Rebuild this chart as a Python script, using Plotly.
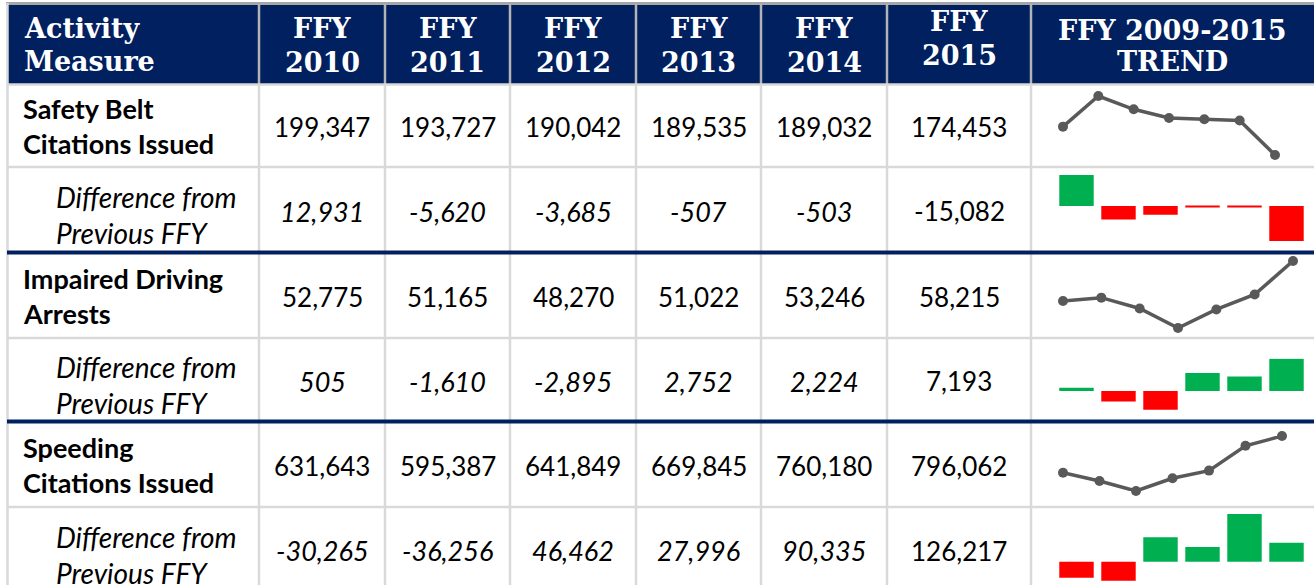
import plotly.graph_objects as go

W, H = 1314, 585

# ---------------- data ----------------
header_years = ["2010", "2011", "2012", "2013", "2014", "2015"]
measure_line1 = ["Safety Belt", "Impaired Driving", "Speeding"]
measure_line2 = ["Citations Issued", "Arrests", "Citations Issued"]
diff_line1 = "Difference from"
diff_line2 = "Previous FFY"

belt_values = [199347, 193727, 190042, 189535, 189032, 174453]
belt_diff = [12931, -5620, -3685, -507, -503, -15082]
impaired_values = [52775, 51165, 48270, 51022, 53246, 58215]
impaired_diff = [505, -1610, -2895, 2752, 2224, 7193]
speeding_values = [631643, 595387, 641849, 669845, 760180, 796062]
speeding_diff = [-30265, -36256, 46462, 27996, 90335, 126217]

# trend sparklines (FFY 2009-2015)
trend_years = ["2009", "2010", "2011", "2012", "2013", "2014", "2015"]
belt_trend = [186416, 199347, 193727, 190042, 189535, 189032, 174453]
impaired_trend = [52270, 52775, 51165, 48270, 51022, 53246, 58215]
speeding_trend = [661908, 631643, 595387, 641849, 669845, 760180, 796062]

bar_years = ["2010", "2011", "2012", "2013", "2014", "2015"]
belt_trend_bars = [12931, -5620, -3685, -507, -503, -14579]
impaired_trend_bars = [505, -1610, -2895, 2752, 2224, 4969]
speeding_trend_bars = [-30265, -36256, 46462, 27996, 90335, 35882]

# ---------------- styles / layout ----------------
NAVY = "#002060"
GRID = "#D9D9D9"
HDR_SEP = "#B4B4B4"
TXT = "#000000"
LINE_C = "#595959"
GREEN = "#00B050"
RED = "#FF0000"
BODY_FONT = "Lato"
HEAD_FONT = "DejaVu Serif"

col_edges = [8, 259, 385, 510, 636, 761, 887, 1031, 1314]
row_edges = [4, 84, 167, 253, 338, 422, 507, 592]

fig = go.Figure()

shapes = []
annotations = []

def line(x0, y0, x1, y1, color, width):
    shapes.append(dict(type="line", xref="x", yref="y", x0=x0, y0=y0, x1=x1, y1=y1,
                       line=dict(color=color, width=width), layer="above"))

def text(x, y, s, size=26, color=TXT, family=BODY_FONT, anchor="center"):
    annotations.append(dict(xref="x", yref="y", x=x, y=y, text=s, showarrow=False,
                            xanchor=anchor, yanchor="middle",
                            font=dict(size=size, color=color, family=family)))

# header background
shapes.append(dict(type="rect", xref="x", yref="y", x0=8, x1=W + 5, y0=4, y1=84,
                   fillcolor=NAVY, line=dict(width=0), layer="below"))
# top border
line(6, 3.5, W + 5, 3.5, "#A6A6A6", 3)
# header separators
for x in col_edges[1:-1]:
    line(x, 4, x, 84, HDR_SEP, 2.5)
# body vertical lines
for x in col_edges[1:-1]:
    line(x, 84, x, H + 5, GRID, 2.5)
# left border
line(7.5, 3, 7.5, H + 5, GRID, 2.5)
# horizontal lines
line(7, 84.5, W + 5, 84.5, GRID, 2.5)
for y in [167, 338, 507]:
    line(7, y, W + 5, y, GRID, 2.5)
for y in [252.5, 421.5]:
    line(7, y, W + 5, y, NAVY, 4)

# header texts
hfs = 27
text(22, 28, "<b>Activity</b>", hfs, "white", HEAD_FONT, "left")
text(22, 61, "<b>Measure</b>", hfs, "white", HEAD_FONT, "left")
for i, yr in enumerate(header_years):
    cx = (col_edges[i + 1] + col_edges[i + 2]) / 2
    dy = -7 if i == 5 else 0
    text(cx, 28 + dy, "<b>FFY</b>", hfs, "white", HEAD_FONT)
    text(cx, 62 + dy, "<b>%s</b>" % yr, hfs, "white", HEAD_FONT)
cx_tr = (col_edges[7] + col_edges[8]) / 2
text(cx_tr, 30, "<b>FFY 2009-2015</b>", hfs, "white", HEAD_FONT)
text(cx_tr, 61, "<b>TREND</b>", hfs, "white", HEAD_FONT)

# body
groups = [(belt_values, belt_diff), (impaired_values, impaired_diff), (speeding_values, speeding_diff)]
for g, (vals, diffs) in enumerate(groups):
    r_main = 1 + 2 * g
    r_diff = 2 + 2 * g
    yc_m = (row_edges[r_main] + row_edges[r_main + 1]) / 2
    yc_d = (row_edges[r_diff] + row_edges[r_diff + 1]) / 2
    text(21, yc_m - 17, "<b>%s</b>" % measure_line1[g], 27, TXT, BODY_FONT, "left")
    text(21, yc_m + 18, "<b>%s</b>" % measure_line2[g], 27, TXT, BODY_FONT, "left")
    text(54, yc_d - 13, "<i>%s</i>" % diff_line1, 28, TXT, BODY_FONT, "left")
    text(54, yc_d + 23, "<i>%s</i>" % diff_line2, 28, TXT, BODY_FONT, "left")
    for i in range(6):
        cx = (col_edges[i + 1] + col_edges[i + 2]) / 2
        text(cx, yc_m + 1, f"{vals[i]:,}", 26)
        s = f"{diffs[i]:,}"
        if i == 5:
            text(cx, yc_d + 1, s, 26)
        else:
            text(cx, yc_d + 1, "<i>%s</i>" % s, 27)

# main layout axis (pixel space)
layout_axes = dict(
    xaxis=dict(range=[0, W], domain=[0, 1], visible=False, fixedrange=True),
    yaxis=dict(range=[H, 0], domain=[0, 1], visible=False, fixedrange=True),
)

def xdom(a, b):
    return [a / W, b / W]

def ydom(top, bottom):
    return [(H - bottom) / H, (H - top) / H]

# sparkline specs: (kind, data, x px domain, y px domain (top,bottom), yrange)
sparks = [
    ("line", belt_trend, (1063, 1275), (96, 155), None),
    ("bar", belt_trend_bars, (1055.5, 1307.5), (173.6, 242), [-15000, 13500]),
    ("line", impaired_trend, (1063, 1293), (261, 328), None),
    ("bar", impaired_trend_bars, (1055.5, 1307.5), (358.5, 410.5), [-3000, 5000]),
    ("line", speeding_trend, (1063, 1282), (436, 491), None),
    ("bar", speeding_trend_bars, (1055.5, 1307.5), (513.7, 582.8), [-40000, 91000]),
]

for k, (kind, data, xd, yd, yr) in enumerate(sparks):
    n = k + 2
    xa, ya = "x%d" % n, "y%d" % n
    if kind == "line":
        fig.add_trace(go.Scatter(x=list(range(len(data))), y=data, mode="lines+markers",
                                 line=dict(color=LINE_C, width=3.5),
                                 marker=dict(color=LINE_C, size=10),
                                 cliponaxis=False, xaxis=xa, yaxis=ya, hoverinfo="skip",
                                 text=trend_years))
        xr = [0, len(data) - 1]
        yr = [min(data), max(data)]
    else:
        colors = [GREEN if v >= 0 else RED for v in data]
        fig.add_trace(go.Bar(x=list(range(len(data))), y=data,
                             marker=dict(color=colors, line=dict(width=0)),
                             xaxis=xa, yaxis=ya, hoverinfo="skip",
                             cliponaxis=False))
        xr = [-0.5, len(data) - 0.5]
    layout_axes["xaxis%d" % n] = dict(domain=xdom(*xd), range=xr, visible=False,
                                      anchor=ya, fixedrange=True)
    layout_axes["yaxis%d" % n] = dict(domain=ydom(*yd), range=yr, visible=False,
                                      anchor=xa, fixedrange=True)

fig.update_layout(
    width=W, height=H,
    margin=dict(l=0, r=0, t=0, b=0),
    paper_bgcolor="white", plot_bgcolor="rgba(0,0,0,0)",
    showlegend=False, bargap=0.18,
    shapes=shapes, annotations=annotations,
    **layout_axes,
)

fig.write_html("out.html", config={"displayModeBar": False},
               post_script="document.body.style.margin='0';document.body.style.overflow='hidden';")
